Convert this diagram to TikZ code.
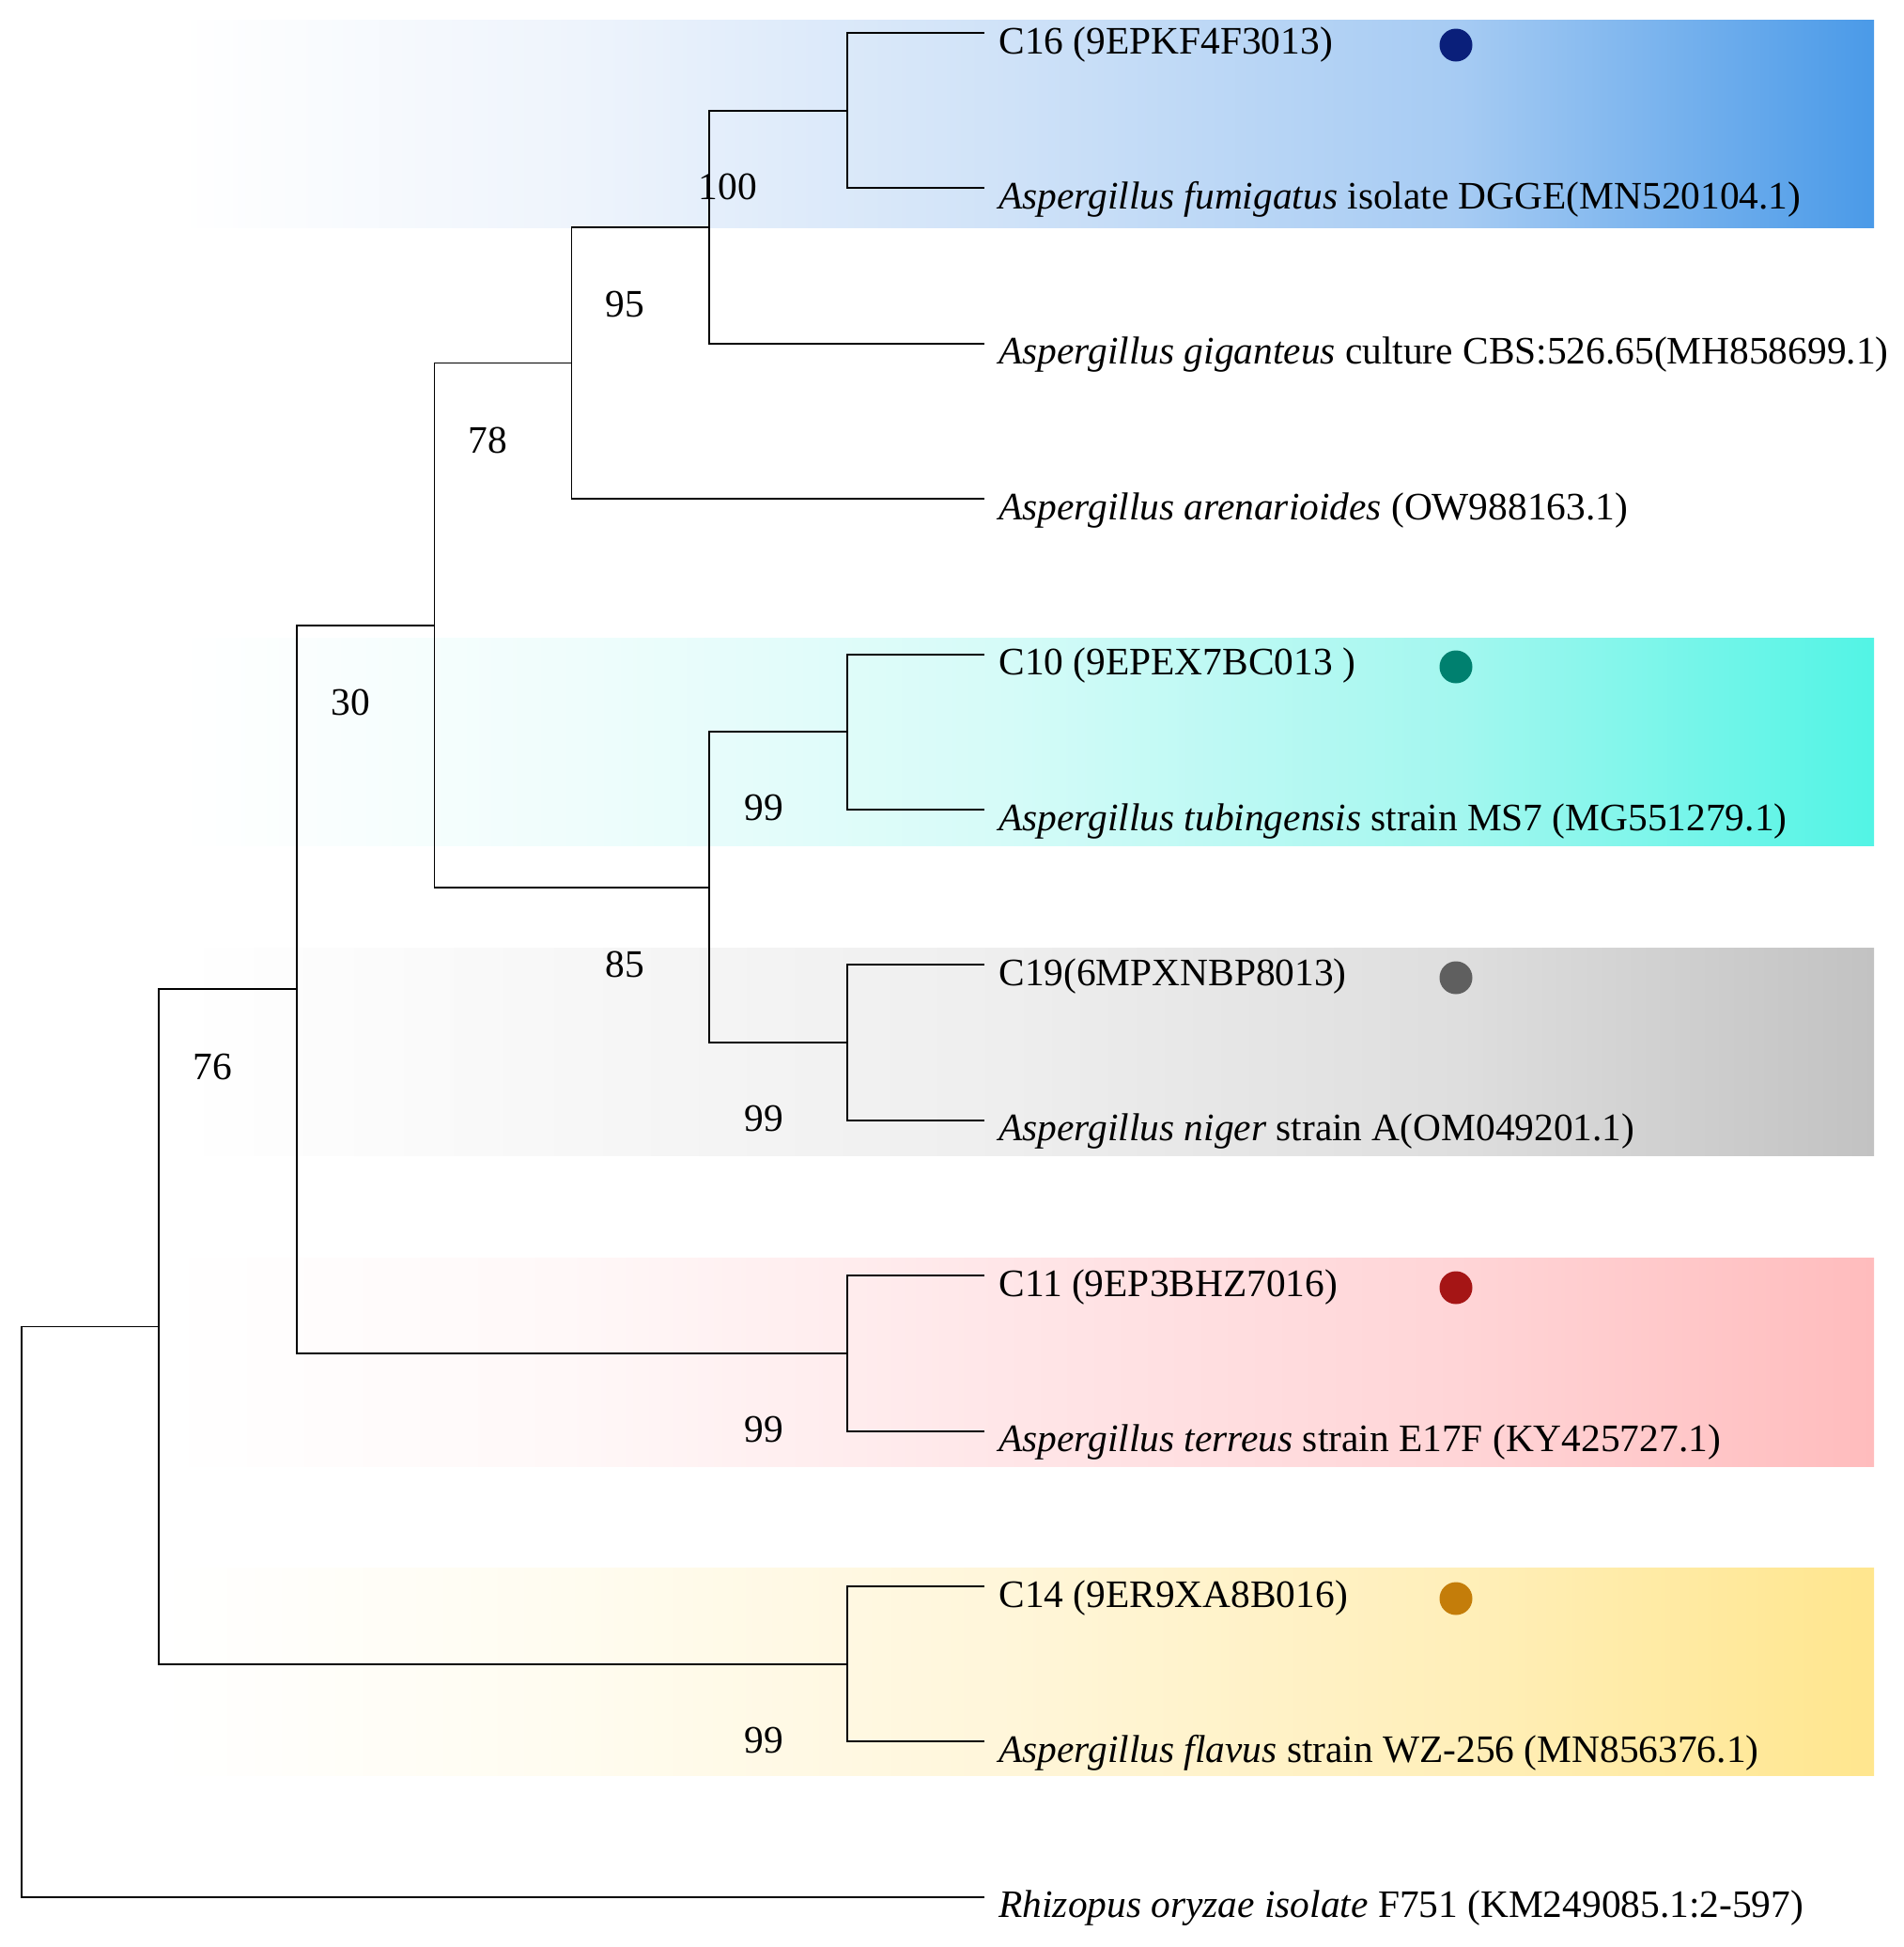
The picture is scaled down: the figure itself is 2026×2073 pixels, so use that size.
\documentclass[tikz,border=0pt]{standalone}
\usepackage{fontspec}
\setmainfont{Liberation Serif}
\definecolor{b1}{HTML}{EEF4FC}\definecolor{b2}{HTML}{CFE2F8}\definecolor{b3}{HTML}{A6CBF3}\definecolor{b4}{HTML}{4A9AE8}
\definecolor{c1}{HTML}{EFFDFC}\definecolor{c2}{HTML}{D5FBF8}\definecolor{c3}{HTML}{A3F7EF}\definecolor{c4}{HTML}{52F4E5}
\definecolor{g1}{HTML}{F7F7F7}\definecolor{g2}{HTML}{EEEEEE}\definecolor{g3}{HTML}{DEDEDE}\definecolor{g4}{HTML}{C2C2C2}
\definecolor{p1}{HTML}{FFF8F8}\definecolor{p2}{HTML}{FFE6E8}\definecolor{p3}{HTML}{FFD5D7}\definecolor{p4}{HTML}{FFBCBD}
\definecolor{y1}{HTML}{FFFCF0}\definecolor{y2}{HTML}{FFF6DA}\definecolor{y3}{HTML}{FFEFBA}\definecolor{y4}{HTML}{FFE68E}
\definecolor{dotA}{HTML}{0A1F7A}\definecolor{dotB}{HTML}{00806F}\definecolor{dotC}{HTML}{5F5F5F}
\definecolor{dotD}{HTML}{A51515}\definecolor{dotE}{HTML}{C47D0A}
\pgfdeclarehorizontalshading{blueband}{100bp}{color(0bp)=(white); color(25bp)=(white); color(36.8bp)=(b1); color(49.5bp)=(b2); color(62.8bp)=(b3); color(75bp)=(b4); color(100bp)=(b4)}
\pgfdeclarehorizontalshading{cyanband}{100bp}{color(0bp)=(white); color(25bp)=(white); color(36.8bp)=(c1); color(49.5bp)=(c2); color(62.8bp)=(c3); color(75bp)=(c4); color(100bp)=(c4)}
\pgfdeclarehorizontalshading{grayband}{100bp}{color(0bp)=(white); color(25bp)=(white); color(36.8bp)=(g1); color(49.5bp)=(g2); color(62.8bp)=(g3); color(75bp)=(g4); color(100bp)=(g4)}
\pgfdeclarehorizontalshading{pinkband}{100bp}{color(0bp)=(white); color(25bp)=(white); color(36.8bp)=(p1); color(49.5bp)=(p2); color(62.8bp)=(p3); color(75bp)=(p4); color(100bp)=(p4)}
\pgfdeclarehorizontalshading{yellowband}{100bp}{color(0bp)=(white); color(25bp)=(white); color(36.8bp)=(y1); color(49.5bp)=(y2); color(62.8bp)=(y3); color(75bp)=(y4); color(100bp)=(y4)}
\begin{document}
\begin{tikzpicture}[x=0.5pt,y=-0.5pt,
  branch/.style={line width=0.95pt,draw=black},
  leaflab/.style={anchor=base west,inner sep=0pt,font=\fontsize{20.7pt}{24pt}\selectfont},
  boot/.style={anchor=center,inner sep=0pt,font=\fontsize{20.7pt}{24pt}\selectfont},
  dotn/.style={circle,inner sep=0pt,minimum size=17.5pt,draw=none},
  band/.style={draw=none}]
\useasboundingbox[fill=white] (0,0) rectangle (2026,2073);
% bands
\shade[band,shading=blueband] (190,21) rectangle (1995,242);
\shade[band,shading=cyanband] (190,679) rectangle (1995,900);
\shade[band,shading=grayband] (190,1009) rectangle (1995,1230);
\shade[band,shading=pinkband] (170,1339) rectangle (1995,1561);
\shade[band,shading=yellowband] (170,1669) rectangle (1995,1890);
% leaf tips
\coordinate (t1) at (1048,35);
\coordinate (t2) at (1048,200.4);
\coordinate (t3) at (1048,365.8);
\coordinate (t4) at (1048,531.2);
\coordinate (t5) at (1048,696.6);
\coordinate (t6) at (1048,862);
\coordinate (t7) at (1048,1027.4);
\coordinate (t8) at (1048,1192.8);
\coordinate (t9) at (1048,1358.2);
\coordinate (t10) at (1048,1523.6);
\coordinate (t11) at (1048,1689);
\coordinate (t12) at (1048,1854.4);
\coordinate (t13) at (1048,2019.8);
% internal nodes
\coordinate (n1) at (902,117.7);
\coordinate (n2) at (755,241.75);
\coordinate (n3) at (608.5,386.5);
\coordinate (n4) at (902,779.3);
\coordinate (n5) at (902,1110.1);
\coordinate (n6) at (755,944.7);
\coordinate (n7) at (462.5,665.6);
\coordinate (n8) at (902,1440.9);
\coordinate (n9) at (316,1053.25);
\coordinate (n10) at (902,1771.7);
\coordinate (n11) at (169,1412.5);
\coordinate (root) at (22.6,1716.1);
% branches
\draw[branch] (n1) |- (t1);
\draw[branch] (n1) |- (t2);
\draw[branch] (n2) |- (n1);
\draw[branch] (n2) |- (t3);
\draw[branch] (n3) |- (n2);
\draw[branch] (n3) |- (t4);
\draw[branch] (n4) |- (t5);
\draw[branch] (n4) |- (t6);
\draw[branch] (n5) |- (t7);
\draw[branch] (n5) |- (t8);
\draw[branch] (n6) |- (n4);
\draw[branch] (n6) |- (n5);
\draw[branch] (n7) |- (n3);
\draw[branch] (n7) |- (n6);
\draw[branch] (n8) |- (t9);
\draw[branch] (n8) |- (t10);
\draw[branch] (n9) |- (n7);
\draw[branch] (n9) |- (n8);
\draw[branch] (n10) |- (t11);
\draw[branch] (n10) |- (t12);
\draw[branch] (n11) |- (n9);
\draw[branch] (n11) |- (n10);
\draw[branch] (root) |- (n11);
\draw[branch] (root) |- (t13);
% leaf labels
\node[leaflab] (l1) at (1063,57) {C16 (9EPKF4F3013)};
\node[leaflab] (l2) at (1063,222.4) {\textit{Aspergillus fumigatus} isolate DGGE(MN520104.1)};
\node[leaflab] (l3) at (1063,387.8) {\textit{Aspergillus giganteus} culture CBS:526.65(MH858699.1)};
\node[leaflab] (l4) at (1063,553.2) {\textit{Aspergillus arenarioides} (OW988163.1)};
\node[leaflab] (l5) at (1063,718.6) {C10 (9EPEX7BC013 )};
\node[leaflab] (l6) at (1063,884) {\textit{Aspergillus tubingensis} strain MS7 (MG551279.1)};
\node[leaflab] (l7) at (1063,1049.4) {C19(6MPXNBP8013)};
\node[leaflab] (l8) at (1063,1214.8) {\textit{Aspergillus niger} strain A(OM049201.1)};
\node[leaflab] (l9) at (1063,1380.2) {C11 (9EP3BHZ7016)};
\node[leaflab] (l10) at (1063,1545.6) {\textit{Aspergillus terreus} strain E17F (KY425727.1)};
\node[leaflab] (l11) at (1063,1711) {C14 (9ER9XA8B016)};
\node[leaflab] (l12) at (1063,1876.4) {\textit{Aspergillus flavus} strain WZ-256 (MN856376.1)};
\node[leaflab] (l13) at (1063,2041.8) {\textit{Rhizopus oryzae isolate} F751 (KM249085.1:2-597)};
% dots
\node[dotn,fill=dotA] (d1) at (1550,48) {};
\node[dotn,fill=dotB] (d5) at (1550,710) {};
\node[dotn,fill=dotC] (d7) at (1550,1041) {};
\node[dotn,fill=dotD] (d9) at (1550,1371) {};
\node[dotn,fill=dotE] (d11) at (1550,1702) {};
% bootstrap values
\node[boot] (bs1) at (775,199) {100};
\node[boot] (bs2) at (665,324) {95};
\node[boot] (bs3) at (519,469) {78};
\node[boot] (bs4) at (373,748) {30};
\node[boot] (bs5) at (813,860) {99};
\node[boot] (bs6) at (665,1027) {85};
\node[boot] (bs7) at (226,1136) {76};
\node[boot] (bs8) at (813,1191) {99};
\node[boot] (bs9) at (813,1522) {99};
\node[boot] (bs10) at (813,1853) {99};
\end{tikzpicture}
\end{document}
